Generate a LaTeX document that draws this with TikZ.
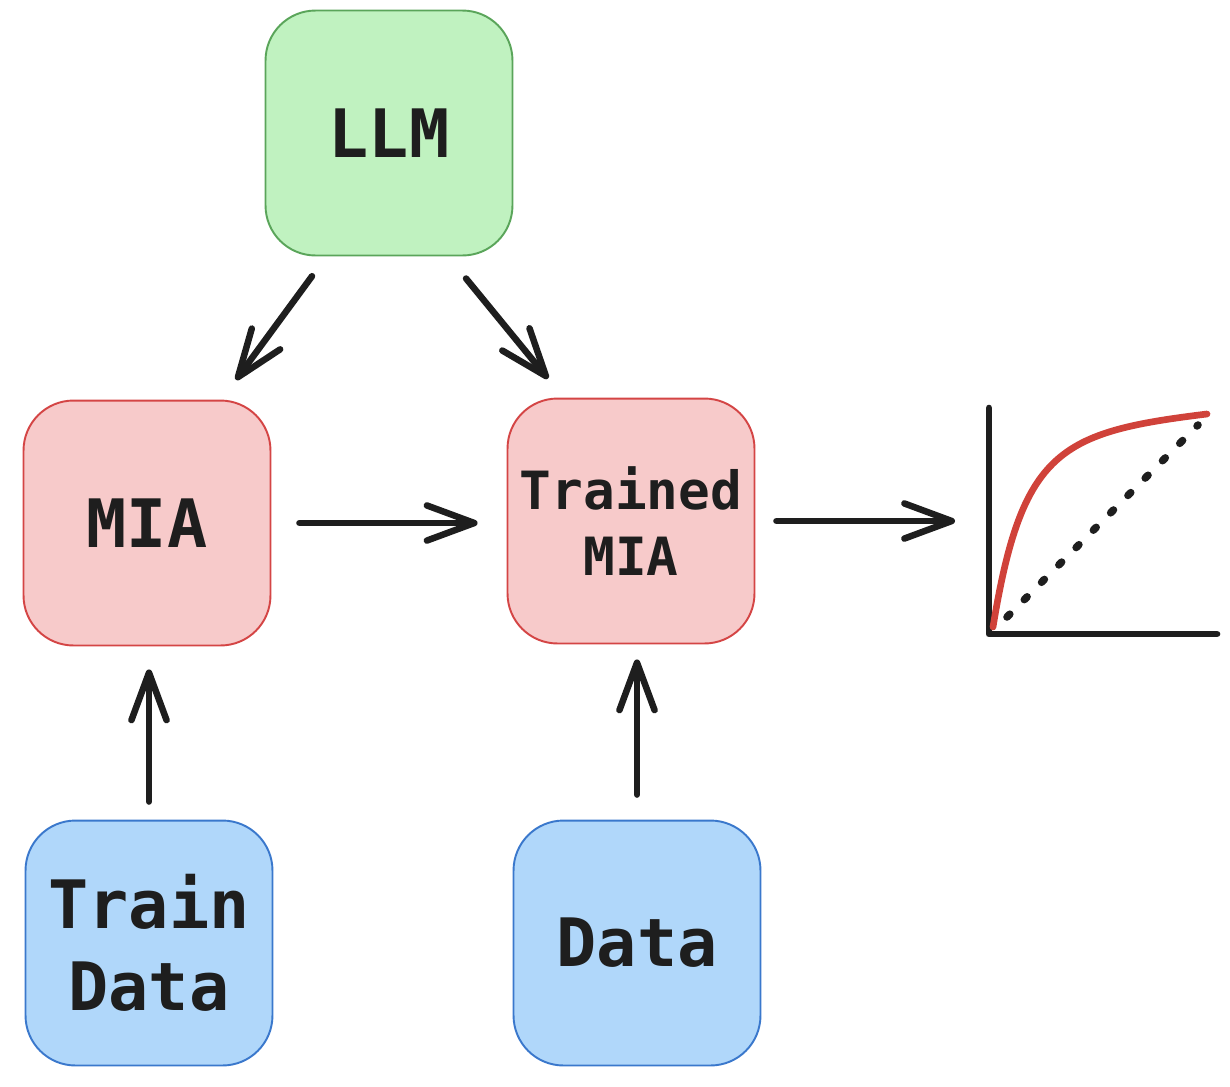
\documentclass[tikz,border=0pt]{standalone}
\usepackage{fontspec}
\setmonofont{DejaVu Sans Mono}
\usetikzlibrary{arrows.meta}

\definecolor{ink}{HTML}{1E1E1E}
\definecolor{llmfill}{HTML}{C0F2C0}
\definecolor{llmline}{HTML}{5AA55A}
\definecolor{miafill}{HTML}{F7CACA}
\definecolor{mialine}{HTML}{D44545}
\definecolor{datafill}{HTML}{B0D7FA}
\definecolor{dataline}{HTML}{3A78CC}
\definecolor{rocred}{HTML}{D0423A}

\begin{document}
\begin{tikzpicture}[x=0.02cm, y=-0.02cm,
  >={Straight Barb[length=27pt, width=20pt, line cap=round, line join=round]},
  box/.style={rectangle, rounded corners=1cm, line width=1.1pt, minimum width=4.94cm, minimum height=4.9cm,
    align=center, text=ink, font=\ttfamily\bfseries\fontsize{38}{47}\selectfont},
  flow/.style={->, draw=ink, line width=3.7pt, line cap=round}]
  % \draw[gray, very thin, step=100] (0,0) grid (1230,1086);
  \useasboundingbox (0,0) rectangle (1230,1086);

  \node[name=llm, box, fill=llmfill, draw=llmline] at (389,133) {LLM};
  \node[name=mia, box, fill=miafill, draw=mialine] at (147,523) {MIA};
  \node[name=trained, box, fill=miafill, draw=mialine, font=\ttfamily\bfseries\fontsize{30}{37.5}\selectfont] at (631,521) {Trained\\MIA};
  \node[name=traindata, box, fill=datafill, draw=dataline] at (149,943) {Train\\Data};
  \node[name=data, box, fill=datafill, draw=dataline] at (637,943) {Data};

  % roc plot
  \coordinate (rocin) at (955,521);
  \draw[ink, line width=3.8pt, line cap=round, line join=round] (989,408) -- (989,634) -- (1217,634);
  \draw[ink, line width=4.3pt, line cap=round, dash pattern=on 0.08cm off 0.41cm] (1007,617) -- (1198,425);
  \draw[rocred, line width=3.8pt, line cap=round] (993,627) .. controls (1022,450) and (1060,432) .. (1207,414);

  \draw[flow, shorten <=0.49cm, shorten >=0.49cm] ([xshift=-1.25cm]llm.south) -- ([xshift=1.49cm]mia.north);
  \draw[flow, shorten <=0.57cm, shorten >=0.49cm] ([xshift=1.18cm]llm.south) -- ([xshift=-1.35cm]trained.north);
  \draw[flow, shorten <=0.56cm, shorten >=0.58cm] (mia.east) -- (mia.east -| trained.west);
  \draw[flow, shorten <=0.42cm] (trained.east) -- (rocin);
  \draw[flow, shorten <=0.36cm, shorten >=0.46cm] (traindata.north) -- (traindata.north |- mia.south);
  \draw[flow, shorten <=0.5cm, shorten >=0.3cm] (data.north) -- (data.north |- trained.south);
\end{tikzpicture}
\end{document}
